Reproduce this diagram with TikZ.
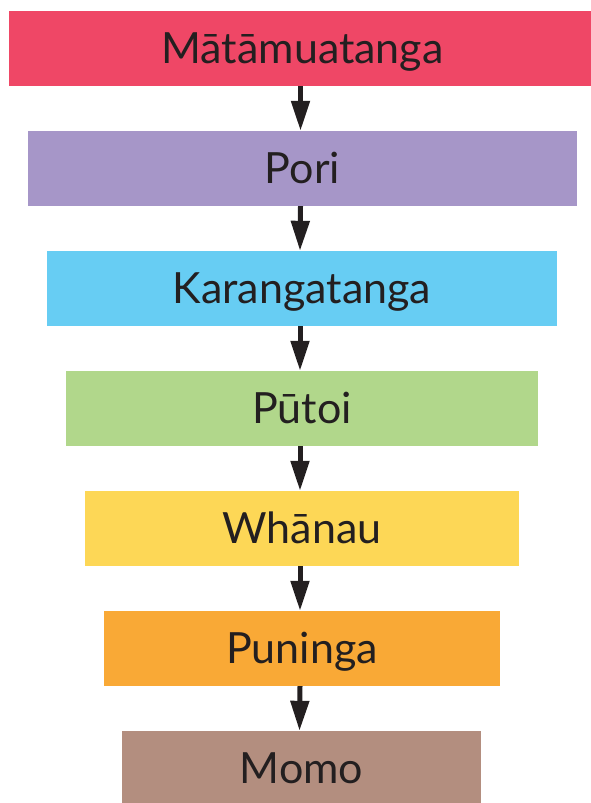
\documentclass[tikz,border=0pt]{standalone}
\usepackage{fontspec}
\setmainfont{Lato}
\usetikzlibrary{arrows.meta}
\definecolor{ink}{HTML}{231F20}
\definecolor{cred}{HTML}{EF4766}
\definecolor{cpurple}{HTML}{A696C8}
\definecolor{cblue}{HTML}{67CDF3}
\definecolor{cgreen}{HTML}{B1D78B}
\definecolor{cyellow}{HTML}{FDD756}
\definecolor{corange}{HTML}{F9A936}
\definecolor{cbrown}{HTML}{B38E7F}
\tikzset{
  level/.style={minimum height=75pt, inner sep=0pt, text=ink,
    text height=30pt, text depth=0pt,
    font=\fontsize{43}{51}\selectfont},
  down/.style={-{Triangle[length=30pt,width=18pt]}, line width=5pt, draw=ink}
}
\begin{document}
\begin{tikzpicture}[x=1pt,y=-1pt]
\useasboundingbox (0,0) rectangle (591,803);
\node[level, fill=cred, minimum width=587pt] (mata) at (302.5,48.5) {Mātāmuatanga};
\node[level, fill=cpurple, minimum width=549pt] (pori) at (302.5,168.5) {Pori};
\node[level, fill=cblue, minimum width=510pt] (kara) at (302,288.5) {Karangatanga};
\node[level, fill=cgreen, minimum width=472pt] (putoi) at (302,408.5) {Pūtoi};
\node[level, fill=cyellow, minimum width=434pt] (whanau) at (302,528.5) {Whānau};
\node[level, fill=corange, minimum width=396pt] (puninga) at (302,648.5) {Puninga};
\node[level, fill=cbrown, minimum width=359pt] (momo) at (301.5,768.5) {Momo};
\draw[down] ([xshift=-2pt]mata.south) -- ([xshift=-2pt]pori.north);
\draw[down] ([xshift=-2pt]pori.south) -- ([xshift=-2pt]kara.north);
\draw[down] ([xshift=-2pt]kara.south) -- ([xshift=-2pt]putoi.north);
\draw[down] ([xshift=-2pt]putoi.south) -- ([xshift=-2pt]whanau.north);
\draw[down] ([xshift=-2pt]whanau.south) -- ([xshift=-2pt]puninga.north);
\draw[down] ([xshift=-2pt]puninga.south) -- ([xshift=-2pt]momo.north);
\end{tikzpicture}
\end{document}
